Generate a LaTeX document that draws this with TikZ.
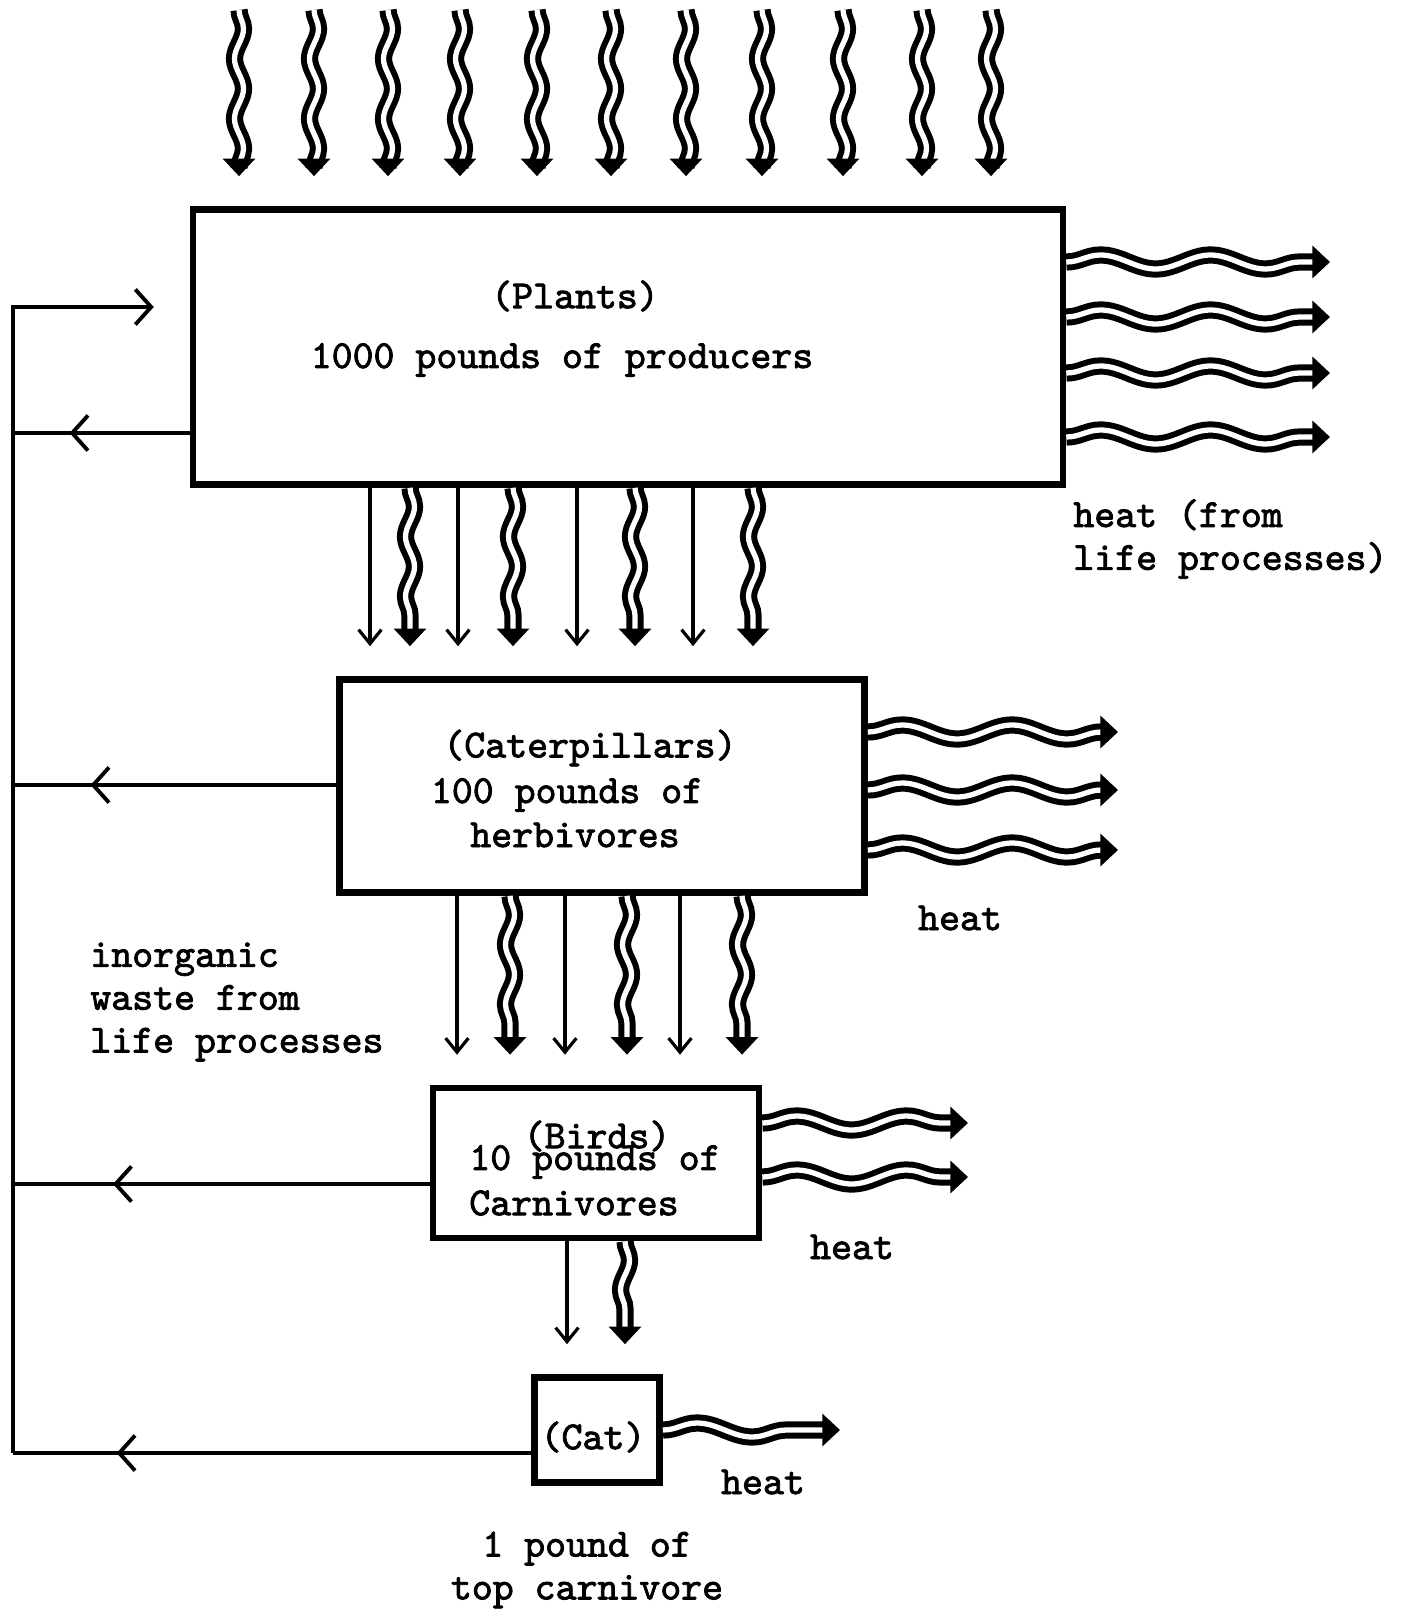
\documentclass[tikz,border=0pt]{standalone}
\usepackage{fontspec}
\usepackage{tikz}
\usetikzlibrary{arrows.meta,decorations.pathmorphing,decorations.markings}
\newfontfamily\typewriter{lmmono10-regular.otf}[FakeBold=2]

\begin{document}
\begin{tikzpicture}[x=0.02cm, y=-0.02cm,
    box/.style={draw, line width=3.8pt, inner sep=0pt},
    txt/.style={inner sep=0pt, font=\typewriter\fontsize{22.7}{24.4}\selectfont},
    feed/.style={line width=2.2pt},
    back/.style={postaction={decorate}, decoration={markings,
        mark=at position #1 with {\arrow{Straight Barb[length=9pt,width=20pt]}}}},
    food/.style={line width=1.8pt, shorten >=0.6cm, -{Straight Barb[length=8pt,width=13pt]}},
    energy/.style={line width=3.4pt, double=white, double distance=3pt, shorten >=0.6cm,
        -{Triangle[length=10pt,width=18pt]}, decorate,
        decoration={snake, amplitude=0.09cm, segment length=1.2cm, post length=0.75cm}},
    heatflow/.style={energy, shorten >=0pt,
        decoration={snake, amplitude=0.14cm, segment length=2.2cm, post length=0.3cm}}]
      \useasboundingbox (0,0) rectangle (1408,1611);
      % boxes
      \node[box, minimum width=17.4cm, minimum height=5.5cm] (plants) at (628,347) {};
      \node[box, minimum width=10.5cm, minimum height=4.26cm] (cater) at (602,786) {};
      \node[box, minimum width=6.52cm, minimum height=3cm] (birds) at (596,1163) {};
      \node[box, minimum width=2.5cm, minimum height=2.1cm] (cat) at (597,1430) {};
      % labels
      \node[txt] (plantsname) at (575,296) {(Plants)};
      \node[txt] (plantsmass) at (562,360) {1000 pounds of producers};
      \node[txt] (catername) at (590,748) {(Caterpillars)};
      \node[txt] (catermass) at (567,795) {100 pounds of};
      \node[txt] (caterkind) at (575,835) {herbivores};
      \node[txt] (birdsname) at (597,1136) {(Birds)};
      \node[txt] (birdsmass) at (595,1162) {10 pounds of};
      \node[txt] (birdskind) at (574,1203) {Carnivores};
      \node[txt] (catname) at (593,1437) {(Cat)};
      \node[txt, align=left, anchor=west] (plantsheat) at (1073,539) {heat (from\\life processes)};
      \node[txt] (caterheat) at (960,918) {heat};
      \node[txt] (birdsheat) at (852,1247) {heat};
      \node[txt] (catheat) at (763,1482) {heat};
      \node[txt, align=left, anchor=west] (waste) at (90,1002) {inorganic\\waste from\\life processes};
      \node[txt, align=center] (catmass) at (587,1570) {1 pound of\\top carnivore};
      % sunlight
      \foreach \x [count=\i] in {239,314,388,460,537,611,686,762,843,922,991} {
        \coordinate (sun\i) at (\x,10);
        \draw[energy] (sun\i) -- (sun\i |- plants.north);
      }
      % plants -> caterpillars
      \foreach \x in {370,458,577,693} \draw[food] (\x,0 |- plants.south) -- (\x,0 |- cater.north);
      \foreach \x in {410,513,635,753} \draw[energy] (\x,0 |- plants.south) -- (\x,0 |- cater.north);
      % caterpillars -> birds
      \foreach \x in {457,565,680} \draw[food] (\x,0 |- cater.south) -- (\x,0 |- birds.north);
      \foreach \x in {510,627,742} \draw[energy] (\x,0 |- cater.south) -- (\x,0 |- birds.north);
      % birds -> cat
      \draw[food] (567,0 |- birds.south) -- (567,0 |- cat.north);
      \draw[energy] (625,0 |- birds.south) -- (625,0 |- cat.north);
      % heat
      \foreach \y [count=\i] in {262,317,373,437} {
        \coordinate (plantsout\i) at (1330,\y);
        \draw[heatflow] (plants.east |- plantsout\i) -- (plantsout\i);
      }
      \foreach \y [count=\i] in {732,790,850} {
        \coordinate (caterout\i) at (1118,\y);
        \draw[heatflow] (cater.east |- caterout\i) -- (caterout\i);
      }
      \foreach \y [count=\i] in {1123,1177} {
        \coordinate (birdsout\i) at (968,\y);
        \draw[heatflow] (birds.east |- birdsout\i) -- (birdsout\i);
      }
      \coordinate (catout) at (840,1430);
      \draw[heatflow] (cat.east |- catout) -- (catout);
      % waste back to the producers
      \coordinate (r0) at (13,307);
      \coordinate (r1) at (13,433);
      \coordinate (r2) at (13,785);
      \coordinate (r3) at (13,1184);
      \coordinate (r4) at (13,1453);
      \draw[feed, shorten >=0.72cm, -{Straight Barb[length=9pt,width=20pt]}] (r4) -- (r0) -- (plants.west |- r0);
      \draw[feed, back=0.68] (plants.west |- r1) -- (r1); % plants
      \draw[feed, back=0.76] (cater.west |- r2) -- (r2); % caterpillars
      \draw[feed, back=0.76] (birds.west |- r3) -- (r3); % birds
      \draw[feed, back=0.8] (cat.west |- r4) -- (r4); % cat
\end{tikzpicture}
\end{document}
